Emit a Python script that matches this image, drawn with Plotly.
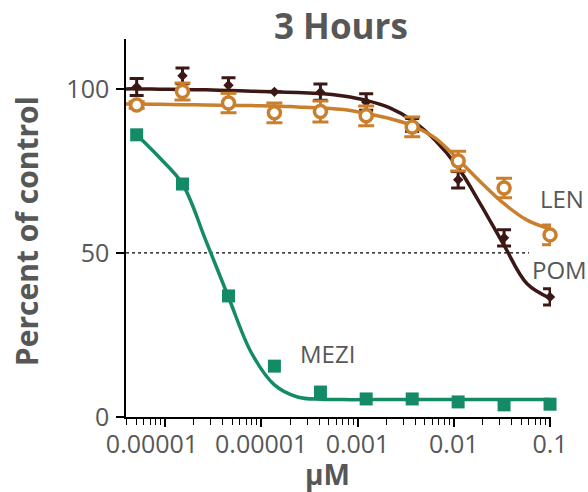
import plotly.graph_objects as go

# ---------------- data ----------------
conc_uM = [5.08e-6, 1.52e-5, 4.57e-5, 1.37e-4, 4.12e-4, 1.23e-3, 3.70e-3, 1.11e-2, 3.33e-2, 0.1]

pom_mean = [100.6, 104.0, 101.1, 99.1, 99.0, 96.0, 89.0, 72.3, 54.6, 36.6]
pom_err = [2.6, 2.4, 2.3, 0.0, 2.5, 2.5, 2.0, 2.5, 2.5, 2.5]

len_mean = [95.1, 99.2, 95.7, 92.7, 93.1, 91.8, 88.4, 78.0, 69.8, 55.5]
len_err = [1.0, 2.6, 3.0, 3.0, 3.2, 3.0, 3.0, 3.0, 3.0, 3.0]

mezi_mean = [86.0, 71.0, 36.9, 15.5, 7.6, 5.5, 5.5, 4.6, 3.7, 3.9]

# fitted curves
curve_x = [3.94e-6, 5.08e-6, 8.8e-6, 1.52e-5, 2.64e-5, 4.57e-5, 7.92e-5, 1.37e-4, 2.38e-4,
           4.12e-4, 7.13e-4, 1.23e-3, 2.14e-3, 3.70e-3, 6.42e-3, 1.11e-2, 1.92e-2,
           3.33e-2, 5.77e-2, 0.1]
pom_fit = [100.0, 100.0, 99.9, 99.8, 99.7, 99.5, 99.3, 99.1, 98.9,
           98.6, 97.8, 96.5, 94.3, 90.4, 84.3, 76.0, 64.6, 52.3, 40.6, 36.2]
len_fit = [95.4, 95.4, 95.3, 95.2, 95.1, 95.0, 94.9, 94.8, 94.5,
           94.2, 93.7, 92.5, 91.0, 88.8, 85.0, 78.5, 71.5, 65.0, 60.0, 57.3]
mezi_fit = [None, 86.0, 79.0, 71.0, 54.0, 36.5, 19.5, 9.8, 6.1,
            5.4, 5.3, 5.3, 5.3, 5.3, 5.3, 5.3, 5.3, 5.3, 5.3, 5.3]

ref_x = [3.94e-6, 0.0605]
ref_y = [50, 50]

x_tickvals = [1e-5, 1e-4, 1e-3, 1e-2, 1e-1]
x_ticktext = ["0.00001\u00a0\u00a0\u00a0\u00a0", "0.00001", "0.001", "0.01", "0.1"]
x_minor = [d * 10.0 ** e for e in range(-6, -1) for d in range(2, 10)]
y_tickvals = [0, 50, 100]

POM_C = "#3b1816"
LEN_C = "#c97f2c"
MEZI_C = "#158a66"
TXT = "#575757"
FONT = "Open Sans"

fig = go.Figure()

fig.add_trace(go.Scatter(x=ref_x, y=ref_y, mode="lines",
                         line=dict(color="black", width=1.2, dash="dot"),
                         hoverinfo="skip", showlegend=False))

# POM
fig.add_trace(go.Scatter(x=curve_x, y=pom_fit, mode="lines",
                         line=dict(color=POM_C, width=3.5, shape="spline", smoothing=1.0),
                         showlegend=False))
fig.add_trace(go.Scatter(x=conc_uM, y=pom_mean, mode="markers",
                         marker=dict(symbol="diamond", size=8, color=POM_C),
                         error_y=dict(type="data", array=pom_err, color=POM_C,
                                      thickness=3, width=7),
                         cliponaxis=False, showlegend=False))
# LEN
fig.add_trace(go.Scatter(x=curve_x, y=len_fit, mode="lines",
                         line=dict(color=LEN_C, width=3.5, shape="spline", smoothing=1.0),
                         showlegend=False))
fig.add_trace(go.Scatter(x=conc_uM, y=len_mean, mode="markers",
                         marker=dict(symbol="circle", size=12, color="white",
                                     line=dict(color=LEN_C, width=3.5)),
                         error_y=dict(type="data", array=len_err, color=LEN_C,
                                      thickness=3, width=8),
                         cliponaxis=False, showlegend=False))
# MEZI
fig.add_trace(go.Scatter(x=curve_x, y=mezi_fit, mode="lines",
                         line=dict(color=MEZI_C, width=3.5, shape="spline", smoothing=1.0),
                         connectgaps=False, showlegend=False))
fig.add_trace(go.Scatter(x=conc_uM, y=mezi_mean, mode="markers",
                         marker=dict(symbol="square", size=13, color=MEZI_C),
                         cliponaxis=False, showlegend=False))

fig.update_layout(
    width=588, height=492,
    margin=dict(l=126, r=37, t=39, b=75),
    plot_bgcolor="white", paper_bgcolor="white",
    font=dict(family=FONT, color=TXT, size=24),
    showlegend=False,
    xaxis=dict(type="log", range=[-5.405, -0.99], automargin=False,
               showline=True, linecolor="black", linewidth=1.5,
               ticks="outside", ticklen=8, tickwidth=1.5, tickcolor="black",
               tickmode="array", tickvals=x_tickvals, ticktext=x_ticktext,
               tickangle=0,
               tickfont=dict(family=FONT, size=25, color=TXT),
               ticklabelstandoff=-4,
               minor=dict(ticks="outside", ticklen=6, tickwidth=1.2, tickcolor="black",
                          tickmode="array", tickvals=x_minor),
               showgrid=False, zeroline=False),
    yaxis=dict(range=[0, 115.2], automargin=False,
               showline=True, linecolor="black", linewidth=1.5,
               ticks="outside", ticklen=8, tickwidth=1.5, tickcolor="black",
               tickmode="array", tickvals=y_tickvals,
               tickfont=dict(family=FONT, size=25, color=TXT),
               ticklabelstandoff=2,
               showgrid=False, zeroline=False),
    annotations=[
        dict(text="<b>3 Hours</b>", xref="paper", yref="paper", x=0.506, y=1 + 13 / 378,
             xanchor="center", yanchor="middle", showarrow=False,
             font=dict(family=FONT, size=35, color=TXT)),
        dict(text="<b>Percent of control</b>", xref="paper", yref="paper",
             x=-0.235, y=0.492, textangle=-90, xanchor="center", yanchor="middle",
             showarrow=False, font=dict(family=FONT, size=30, color=TXT)),
        dict(text="<b>μM</b>", xref="paper", yref="paper", x=0.475, y=-0.151,
             xanchor="center", yanchor="middle", showarrow=False,
             font=dict(family=FONT, size=28, color=TXT)),
        dict(text="LEN", xref="paper", yref="paper", x=1.026, y=0.579,
             xanchor="center", yanchor="middle", showarrow=False,
             font=dict(family=FONT, size=24, color=TXT)),
        dict(text="POM", xref="paper", yref="paper", x=1.021, y=0.389,
             xanchor="center", yanchor="middle", showarrow=False,
             font=dict(family=FONT, size=24, color=TXT)),
        dict(text="MEZI", xref="paper", yref="paper", x=0.473, y=0.169,
             xanchor="center", yanchor="middle", showarrow=False,
             font=dict(family=FONT, size=24, color=TXT)),
    ],
)

fig.write_html(
    "out.html",
    config={"displayModeBar": False},
    post_script="document.body.style.margin='0px';document.body.style.overflow='hidden';",
)
